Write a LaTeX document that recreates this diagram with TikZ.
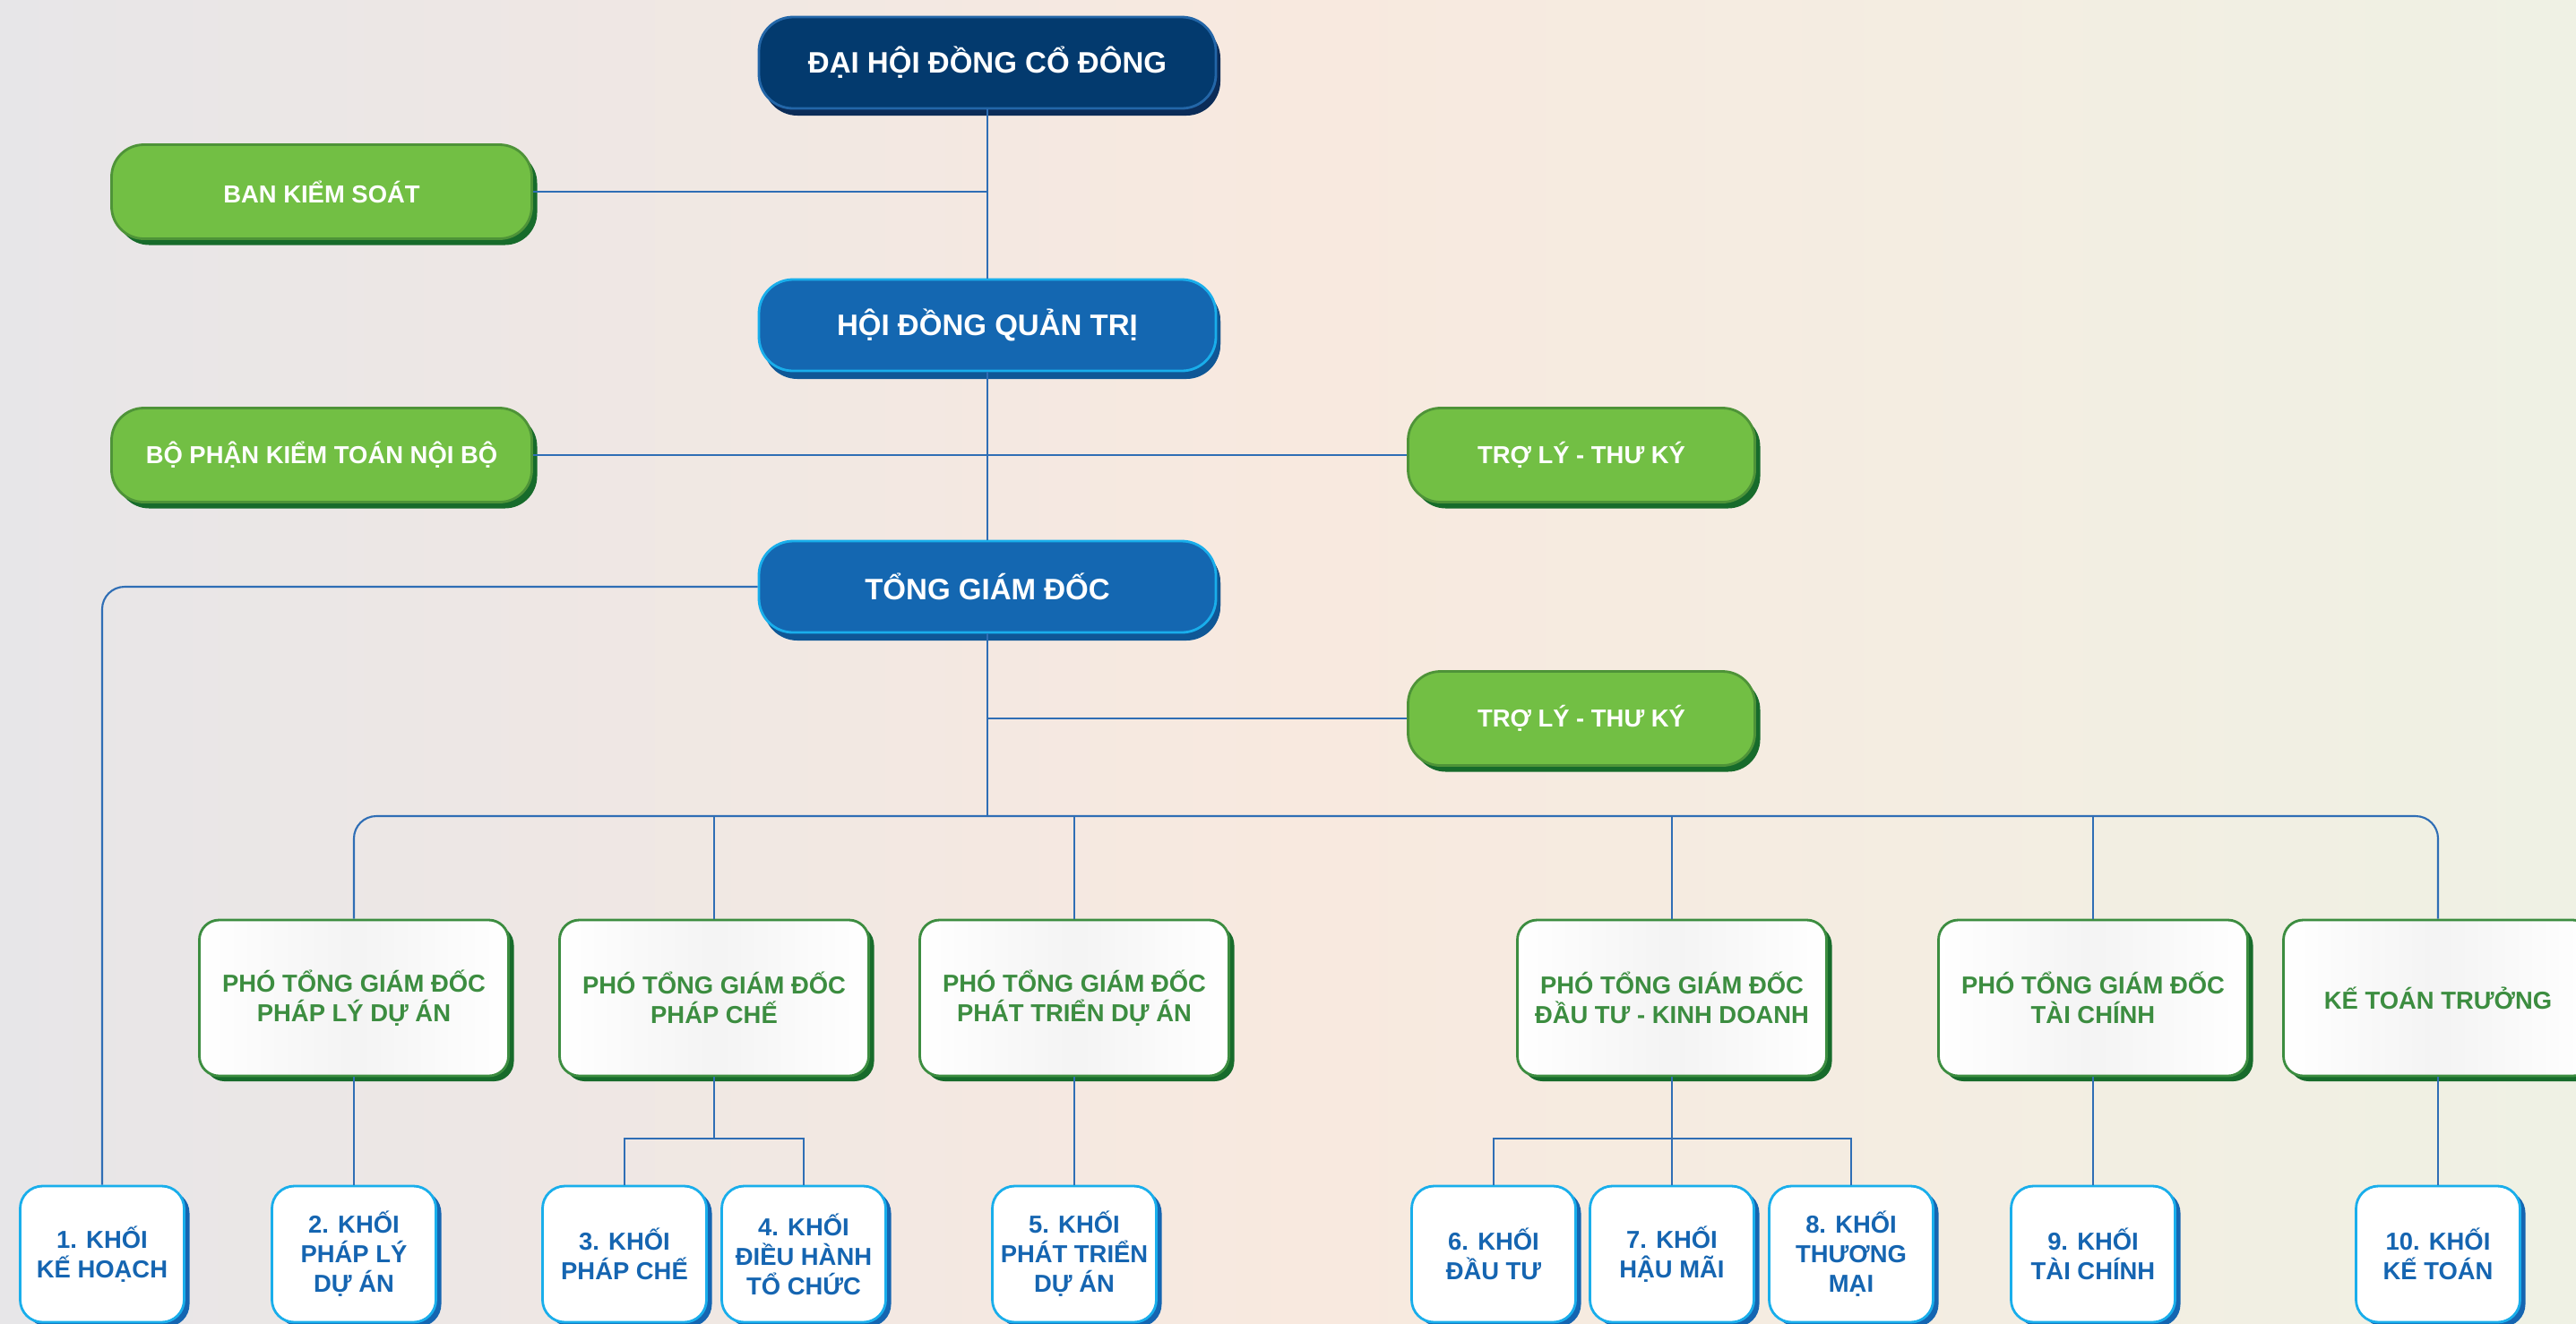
\documentclass[tikz,border=0pt]{standalone}
\usepackage{fontspec}
\setmainfont{Liberation Sans}
\usetikzlibrary{shadows}

\definecolor{navy}{HTML}{033A6E}
\definecolor{navyline}{HTML}{2366A8}
\definecolor{navyshade}{HTML}{0B2C58}
\definecolor{mainblue}{HTML}{1467B1}
\definecolor{cyanline}{HTML}{19AEEB}
\definecolor{blueshade}{HTML}{0F5796}
\definecolor{leaf}{HTML}{72BF44}
\definecolor{leafline}{HTML}{4E9338}
\definecolor{leafshade}{HTML}{176B2B}
\definecolor{pgreen}{HTML}{3C8D40}
\definecolor{kblue}{HTML}{1565B1}
\definecolor{connblue}{HTML}{2F6EB5}
\definecolor{bgleft}{HTML}{E7E6E8}
\definecolor{bgmid}{HTML}{F8E9DF}
\definecolor{bgright}{HTML}{EFF1E4}

\begin{document}
\begin{tikzpicture}[base/.style={draw, align=center, line width=0.8pt, inner sep=0pt},
top/.style={base, fill=navy, draw=navyline, text=white, minimum width=5.1cm, minimum height=1.02cm, rounded corners=0.38cm, font=\fontsize{9.4}{11}\selectfont\bfseries, drop shadow={shadow xshift=0.05cm, shadow yshift=-0.08cm, fill=navyshade, opacity=1}},
board/.style={top, fill=mainblue, draw=cyanline, drop shadow={shadow xshift=0.05cm, shadow yshift=-0.09cm, fill=blueshade, opacity=1}},
side/.style={base, fill=leaf, draw=leafline, text=white, minimum height=1.05cm, rounded corners=0.36cm, font=\fontsize{7.8}{9}\selectfont\bfseries, drop shadow={shadow xshift=0.06cm, shadow yshift=-0.07cm, fill=leafshade, opacity=1}},
vice/.style={base, draw=pgreen, text=pgreen, left color=white, right color=white, middle color=gray!9, minimum width=3.45cm, minimum height=1.74cm, rounded corners=0.22cm, font=\fontsize{7.8}{9.4}\selectfont\bfseries, drop shadow={shadow xshift=0.06cm, shadow yshift=-0.06cm, fill=leafshade, opacity=1}},
unit/.style={base, fill=white, draw=cyanline, text=kblue, minimum width=1.83cm, minimum height=1.52cm, rounded corners=0.25cm, font=\fontsize{7.8}{9.4}\selectfont\bfseries, drop shadow={shadow xshift=0.06cm, shadow yshift=-0.05cm, fill=kblue, opacity=1}},
conn/.style={draw=connblue, line width=0.6pt}]
	\useasboundingbox (0,0) rectangle (28.75,-14.77);
	\clip (0,0) rectangle (28.75,-14.77);
	\shade[left color=bgleft, right color=bgmid] (0,0) rectangle (14.6,-14.77);
	\shade[left color=bgmid, right color=bgright] (14.6,0) rectangle (28.75,-14.77);

	% upper levels
	\node[top] at (11.02,-0.70) (dhcd) {ĐẠI HỘI ĐỒNG CỔ ĐÔNG};
	\node[side, minimum width=4.69cm] at (3.59,-2.14) (bks) {BAN KIỂM SOÁT};
	\node[board] at (11.02,-3.63) (hdqt) {HỘI ĐỒNG QUẢN TRỊ};
	\node[side, minimum width=4.69cm] at (3.59,-5.08) (kt) {BỘ PHẬN KIỂM TOÁN NỘI BỘ};
	\node[side, minimum width=3.87cm] at (17.65,-5.08) (tl1) {TRỢ LÝ - THƯ KÝ};
	\node[board] at (11.02,-6.55) (tgd) {TỔNG GIÁM ĐỐC};
	\node[side, minimum width=3.87cm] at (17.65,-8.02) (tl2) {TRỢ LÝ - THƯ KÝ};

	% deputies
	\node[vice] at (3.95,-11.14) (p1) {PHÓ TỔNG GIÁM ĐỐC\\PHÁP LÝ DỰ ÁN};
	\node[vice] at (7.97,-11.14) (p2) {PHÓ TỔNG GIÁM ĐỐC\\PHÁP CHẾ};
	\node[vice] at (11.99,-11.14) (p3) {PHÓ TỔNG GIÁM ĐỐC\\PHÁT TRIỂN DỰ ÁN};
	\node[vice] at (18.66,-11.14) (p4) {PHÓ TỔNG GIÁM ĐỐC\\ĐẦU TƯ - KINH DOANH};
	\node[vice] at (23.36,-11.14) (p5) {PHÓ TỔNG GIÁM ĐỐC\\TÀI CHÍNH};
	\node[vice] at (27.21,-11.14) (p6) {KẾ TOÁN TRƯỞNG};

	% units
	\node[unit] at (1.14,-14.0) (k1) {1. KHỐI\\KẾ HOẠCH};
	\node[unit] at (3.95,-14.0) (k2) {2. KHỐI\\PHÁP LÝ\\DỰ ÁN};
	\node[unit] at (6.97,-14.0) (k3) {3. KHỐI\\PHÁP CHẾ};
	\node[unit] at (8.97,-14.0) (k4) {4. KHỐI\\ĐIỀU HÀNH\\TỔ CHỨC};
	\node[unit] at (11.99,-14.0) (k5) {5. KHỐI\\PHÁT TRIỂN\\DỰ ÁN};
	\node[unit] at (16.67,-14.0) (k6) {6. KHỐI\\ĐẦU TƯ};
	\node[unit] at (18.66,-14.0) (k7) {7. KHỐI\\HẬU MÃI};
	\node[unit] at (20.66,-14.0) (k8) {8. KHỐI\\THƯƠNG\\MẠI};
	\node[unit] at (23.36,-14.0) (k9) {9. KHỐI\\TÀI CHÍNH};
	\node[unit] at (27.21,-14.0) (k10) {10. KHỐI\\KẾ TOÁN};

	\coordinate (bus) at (11.02,-9.11);
	\coordinate (j2) at (7.97,-12.71);
	\coordinate (j4) at (18.66,-12.71);

	\draw[conn] (dhcd.south) -- (hdqt.north);
	\draw[conn] (hdqt.south) -- (tgd.north);
	\draw[conn] (bks.east) -- (bks.east -| dhcd.south);
	\draw[conn] (kt.east) -- (tl1.west);
	\draw[conn] (tl2.west) -- (tl2.west -| tgd.south);
	\draw[conn] (tgd.south) -- (bus);
	\draw[conn, rounded corners=0.25cm] (p1.north) |- (bus) -| (p6.north);
	\draw[conn] (p2.north) -- (p2.north |- bus);
	\draw[conn] (p3.north) -- (p3.north |- bus);
	\draw[conn] (p4.north) -- (p4.north |- bus);
	\draw[conn] (p5.north) -- (p5.north |- bus);
	\draw[conn, rounded corners=0.25cm] (tgd.west) -| (k1.north);
	\draw[conn] (p1.south) -- (k2.north);
	\draw[conn] (p2.south) -- (j2);
	\draw[conn] (k3.north) |- (j2) -| (k4.north);
	\draw[conn] (p3.south) -- (k5.north);
	\draw[conn] (p4.south) -- (k7.north);
	\draw[conn] (k6.north) |- (j4) -| (k8.north);
	\draw[conn] (p5.south) -- (k9.north);
	\draw[conn] (p6.south) -- (k10.north);
\end{tikzpicture}
\end{document}
